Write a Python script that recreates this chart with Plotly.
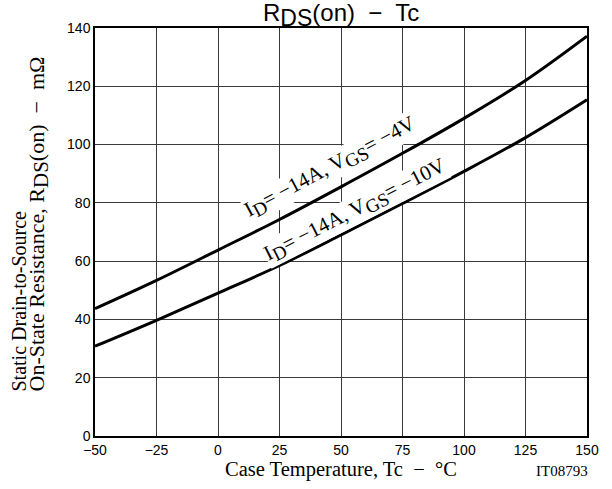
import plotly.graph_objects as go

tc = [-50, -25, 0, 25, 50, 75, 100, 125, 150]
r_vgs4 = [43.7, 53.4, 63.8, 74.3, 85.5, 97.0, 109.0, 122.0, 137.2]
r_vgs10 = [30.8, 39.7, 49.0, 58.5, 69.0, 79.8, 90.8, 102.4, 115.4]
x_ticks = [-50, -25, 0, 25, 50, 75, 100, 125, 150]
x_tick_text = ["\u221250", "\u221225", "0", "25", "50", "75", "100", "125", "150"]
y_ticks = [0, 20, 40, 60, 80, 100, 120, 140]

serif = "Liberation Serif"
sans = "Liberation Sans"

def sub(t, size):
    return '<sub><span style="font-size:%spx">%s</span></sub>' % (size, t)

fig = go.Figure()
for ys in (r_vgs4, r_vgs10):
    fig.add_trace(go.Scatter(x=tc, y=ys, mode="lines",
                             line=dict(color="black", width=3, shape="spline", smoothing=1.0),
                             showlegend=False, hoverinfo="skip"))

# plot area in window: x 95..587, y 28..436 (page body margin removed below)
W, H = 612, 489
L, R, T, B = 95, 25, 28, 53
pw, ph = W - L - R, H - T - B

def px(xw):
    return (xw - L) / pw

def py(yw):
    return (H - B - yw) / ph

fig.update_layout(
    width=W, height=H,
    margin=dict(l=L, r=R, t=T, b=B),
    paper_bgcolor="white", plot_bgcolor="white",
    xaxis=dict(range=[-50, 150], tickvals=x_ticks, ticktext=x_tick_text,
               showgrid=True, gridcolor="#3a3a3a", gridwidth=1, zeroline=False,
               showline=True, linecolor="black", linewidth=1.5, mirror=True,
               ticks="", ticklen=2, automargin=False,
               tickfont=dict(family=sans, size=14, color="black")),
    yaxis=dict(range=[0, 140], tickvals=y_ticks,
               showgrid=True, gridcolor="#3a3a3a", gridwidth=1, zeroline=False,
               showline=True, linecolor="black", linewidth=1.5, mirror=True,
               ticks="", automargin=False,
               tickfont=dict(family=sans, size=14, color="black")),
)

# chart title
fig.add_annotation(x=px(341), y=py(15), xref="paper", yref="paper",
                   text="R" + sub("DS", 23) + "(on)  \u2212  Tc", showarrow=False,
                   xanchor="center", yanchor="middle",
                   font=dict(family=sans, size=24, color="black"))
# y-axis title, two lines
fig.add_annotation(x=px(18), y=py(394), xref="paper", yref="paper",
                   text="Static Drain-to-Source", textangle=-90, showarrow=False,
                   xanchor="center", yanchor="bottom",
                   font=dict(family=serif, size=20, color="black"))
fig.add_annotation(x=px(38), y=py(394), xref="paper", yref="paper",
                   text="On-State Resistance, R" + sub("DS", 21) + "(on)  \u2212  m\u03a9",
                   textangle=-90, showarrow=False, xanchor="center", yanchor="bottom",
                   font=dict(family=serif, size=22, color="black"))
# x-axis title
fig.add_annotation(x=px(341), y=py(470), xref="paper", yref="paper",
                   text="Case Temperature, Tc  \u2212  \u00b0C", showarrow=False,
                   xanchor="center", yanchor="middle",
                   font=dict(family=serif, size=20.5, color="black"))
fig.add_annotation(x=px(562), y=py(471), xref="paper", yref="paper",
                   text="IT08793", showarrow=False, xanchor="center", yanchor="middle",
                   font=dict(family=serif, size=15, color="black"))

# curve labels
fig.add_annotation(x=px(330), y=py(167), xref="paper", yref="paper",
                   text="I" + sub("D", 19) + "= \u221214A, V" + sub("GS", 19) + "= \u22124V",
                   textangle=-28, showarrow=False, bgcolor="white", borderpad=0,
                   font=dict(family=serif, size=21, color="black"))
fig.add_annotation(x=px(355), y=py(211), xref="paper", yref="paper",
                   text="I" + sub("D", 19) + "= \u221214A, V" + sub("GS", 19) + "= \u221210V",
                   textangle=-27, showarrow=False, bgcolor="white", borderpad=0,
                   font=dict(family=serif, size=21, color="black"))

fig.write_html("out.html", config={"displayModeBar": False},
               post_script="document.body.style.margin='0';")
